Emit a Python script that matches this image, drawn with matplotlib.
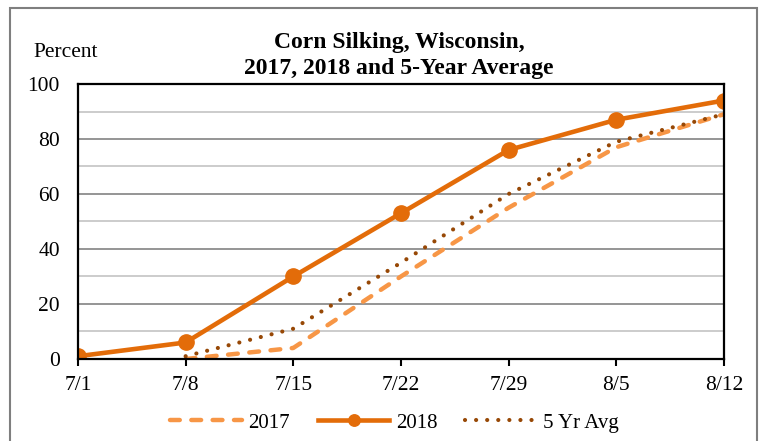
"""
Corn silking progress chart, Wisconsin.
"""

import matplotlib.pyplot as plt
from matplotlib.patches import Rectangle

week_labels = ["7/1", "7/8", "7/15", "7/22", "7/29", "8/5", "8/12"]
pct_2017 = [None, 0, 4, 30, 55, 77, 89]
pct_2018 = [1, 6, 30, 53, 76, 87, 94]
pct_5yr = [None, 1, 11, 35, 60, 79, 89]


def series(values):
    xs = [i for i, v in enumerate(values) if v is not None]
    ys = [v for v in values if v is not None]
    return xs, ys


plt.rcParams["font.family"] = ["Liberation Serif", "DejaVu Serif"]

fig = plt.figure(figsize=(7.66, 4.41), dpi=100)
ax = fig.add_axes([0.1018, 0.186, 0.8432, 0.6235])

# outer chart frame
fig.patches.append(Rectangle((0.013, -0.05), 0.975, 1.032, transform=fig.transFigure,
                             fill=False, edgecolor="#7f7f7f", linewidth=1.5))

for y in range(10, 100, 10):
    shade = "#8c8c8c" if y % 20 == 0 else "#c8c8c8"
    ax.axhline(y, color=shade, linewidth=1.3, zorder=1)

x, y = series(pct_2017)
ax.plot(x, y, color="#F79646", linewidth=3.2, linestyle=(0, (2.2, 2.6)),
        dash_capstyle="round", label="2017", zorder=3)
x, y = series(pct_2018)
ax.plot(x, y, color="#E36C09", linewidth=3.3, marker="o", markersize=11,
        label="2018", zorder=4)
x, y = series(pct_5yr)
ax.plot(x, y, color="#974806", linewidth=3.0, linestyle=(0, (0.01, 2.65)),
        dash_capstyle="round", label="5 Yr Avg", zorder=3)

ax.set_xlim(0, len(week_labels) - 1)
ax.set_ylim(0, 100)
ax.set_xticks(range(len(week_labels)))
ax.set_xticklabels(week_labels)
ax.set_yticks(range(0, 101, 20))
ax.tick_params(axis="x", direction="out", length=5, width=1.5, labelsize=15.5, pad=7)
ax.tick_params(axis="y", length=0, labelsize=15.5, pad=13)
for spine in ax.spines.values():
    spine.set_linewidth(1.6)
    spine.set_color("black")
    spine.set_zorder(5)

fig.text(0.521, 0.875, "Corn Silking, Wisconsin,\n2017, 2018 and 5-Year Average",
         ha="center", va="center", fontsize=17, fontweight="bold", linespacing=1.3)
fig.text(0.043, 0.882, "Percent", ha="left", va="center", fontsize=15.5)

fig.legend(loc="center", bbox_to_anchor=(0.515, 0.041), ncol=3, frameon=False,
           fontsize=15, handlelength=3.45, columnspacing=1.35, handletextpad=0.3,
           markerscale=0.75)

fig.savefig("out.png", dpi=100)
